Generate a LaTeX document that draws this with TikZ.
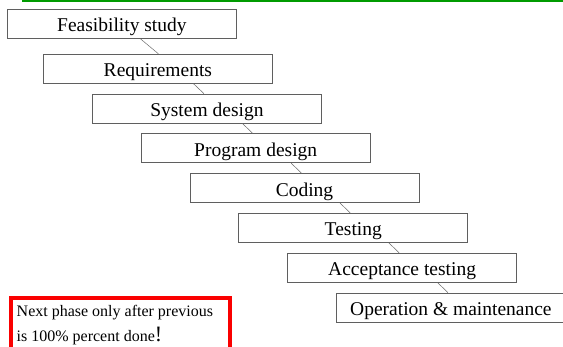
\documentclass[tikz,border=0pt]{standalone}
\usepackage{fontspec}
\setmainfont{Liberation Serif}
\usepackage{tikz}
\usetikzlibrary{calc,positioning}
\definecolor{boxline}{RGB}{95,95,95}
\definecolor{linkline}{RGB}{105,105,105}
\definecolor{rulegreen}{RGB}{0,155,0}
\definecolor{notered}{RGB}{250,0,0}
\newcommand{\PhaseFont}{\fontsize{19.5}{22}\selectfont}
\newcommand{\NoteFont}{\fontsize{16}{25}\selectfont}
\tikzset{
  phase/.style={rectangle, draw=boxline, line width=0.8pt, minimum width=229pt, minimum height=29pt,
    inner sep=0pt, text height=16pt, text depth=0pt, font=\PhaseFont, anchor=north west},
  link/.style={draw=linkline, line width=0.5pt},
  topline/.style={draw=rulegreen, line width=2.4pt},
  notetext/.style={align=left, inner sep=0pt, font=\NoteFont, anchor=north west},
  noteframe/.style={draw=notered, line width=3.6pt}
}

\begin{document}
\begin{tikzpicture}[x=1pt, y=1pt, node distance=10pt]
  \useasboundingbox[fill=white] (0,0) rectangle (563,-347);
  \draw[topline] (22,-1.2) -- (563,-1.2);
  \node[phase] (p1) at (7,-9) {Feasibility study};
  \node[phase, below=15pt of p1.south west, anchor=north west, xshift=36pt] (p2) {Requirements};
  \node[phase, below=of p2.south west, anchor=north west, xshift=49pt] (p3) {System design};
  \node[phase, below=of p3.south west, anchor=north west, xshift=48.8pt] (p4) {Program design};
  \node[phase, below=of p4.south west, anchor=north west, xshift=48.8pt] (p5) {Coding};
  \node[phase, below=of p5.south west, anchor=north west, xshift=48.8pt] (p6) {Testing};
  \node[phase, below=of p6.south west, anchor=north west, xshift=48.8pt] (p7) {Acceptance testing};
  \node[phase, below=of p7.south west, anchor=north west, xshift=48.8pt] (p8) {Operation \& maintenance};
  \draw[link] ($(p1.south)+(18.5,0)$) -- ($(p2.north)+(0.5,0)$);
  \draw[link] ($(p2.south)+(35.5,0)$) -- ($(p3.north)+(-3,0)$); \draw[link] ($(p3.south)+(35.5,0)$) -- ($(p4.north)+(-3,0)$);
  \draw[link] ($(p4.south)+(35.5,0)$) -- ($(p5.north)+(-3,0)$); \draw[link] ($(p5.south)+(35.5,0)$) -- ($(p6.north)+(-3,0)$);
  \draw[link] ($(p6.south)+(35.5,0)$) -- ($(p7.north)+(-3,0)$); \draw[link] ($(p7.south)+(35.5,0)$) -- ($(p8.north)+(-3,0)$);
  % note box, open towards the page bottom
  \node[notetext] (note) at (16.5,-305) {Next phase only after previous\\is 100\% percent done{\fontsize{22}{25}\selectfont !}};
  \draw[noteframe] ($(note.north west)+(-5.5,7)$) rectangle ($(note.north west)+(213.7,-70)$);
\end{tikzpicture}
\end{document}
